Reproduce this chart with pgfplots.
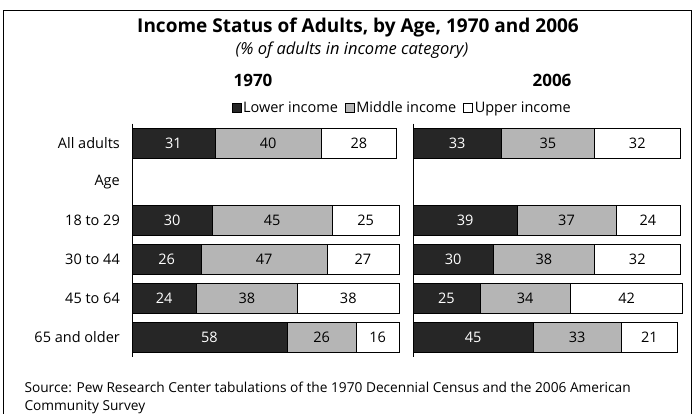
\documentclass[border=0pt]{standalone}
\usepackage{fontspec}
\setmainfont{Open Sans}
\usepackage{pgfplots}
\pgfplotsset{compat=1.18}
\usepackage{pgfplotstable}

\pgfplotstableread{
row low mid up
0 31 40 28
2 30 45 25
3 26 47 27
4 24 38 38
5 58 26 16
}\seventy
\pgfplotstableread{
row low mid up
0 33 35 32
2 39 37 24
3 30 38 32
4 25 34 42
5 45 33 21
}\twothousandsix

\definecolor{lowc}{HTML}{262626}
\definecolor{midc}{HTML}{B5B5B5}

\pgfplotsset{
 panel/.style={
  xbar, bar shift=0pt, scale only axis, width=267pt, height=233pt,
  xmin=0, xmax=100, ymin=-0.5, ymax=5.5, y dir=reverse,
  bar width=30pt, clip=false,
  axis x line=none, axis y line*=left, y axis line style={-, line width=1pt},
  ytick={0,...,5}, major tick length=0pt, ytick style={draw=none},
  xtick=\empty,
  /pgf/number format/assume math mode=true,
  legend image code/.code={\draw[#1] (0pt,-4.5pt) rectangle (9pt,4.5pt);},
 },
 lbl/.style={only marks, mark=none, point meta=explicit,
   nodes near coords, forget plot,
   every node near coord/.append style={font=\fontsize{14.5}{16}\selectfont, anchor=center, inner sep=0pt, text=#1}},
}

\begin{document}
\begin{tikzpicture}
\useasboundingbox (0pt,0pt) rectangle (696pt,-414pt);
\draw[line width=0.8pt] (3pt,-416pt) -- (3pt,-10pt) -- (691pt,-10pt) -- (691pt,-416pt);

\node[font=\bfseries\fontsize{19}{21}\selectfont] at (358pt,-28pt) {Income Status of Adults, by Age, 1970 and 2006};
\node[font=\itshape\fontsize{16.5}{18}\selectfont] at (352pt,-50pt) {(\% of adults in income category)};
\node[font=\bfseries\fontsize{17}{19}\selectfont] at (253pt,-80pt) {1970};
\node[font=\bfseries\fontsize{17}{19}\selectfont] at (552pt,-80pt) {2006};

\begin{axis}[panel, at={(132pt,-123.6pt)}, anchor=north west,
  yticklabels={All adults, Age, 18 to 29, 30 to 44, 45 to 64, 65 and older},
  yticklabel style={font=\fontsize{14.5}{16}\selectfont, inner sep=0pt, xshift=-12pt},
  legend style={at={(1.012,1.068)}, anchor=center, draw=none, fill=none, legend columns=3,
    font=\fontsize{14.5}{16}\selectfont, inner sep=0pt,
    /tikz/every odd column/.append style={column sep=0pt},
    /tikz/every even column/.append style={column sep=5pt}},
]
\addlegendimage{fill=lowc, draw=black}
\addlegendimage{fill=midc, draw=black}
\addlegendimage{fill=white, draw=black}
\legend{Lower income, Middle income, Upper income}
\addplot[fill=white, draw=black, forget plot] table[y=row, x expr=\thisrow{low}+\thisrow{mid}+\thisrow{up}] {\seventy};
\addplot[fill=midc, draw=black, forget plot] table[y=row, x expr=\thisrow{low}+\thisrow{mid}] {\seventy};
\addplot[fill=lowc, draw=black, forget plot] table[y=row, x=low] {\seventy};
\addplot[lbl=white] table[y=row, x expr=\thisrow{low}/2, meta=low] {\seventy};
\addplot[lbl=black] table[y=row, x expr=\thisrow{low}+\thisrow{mid}/2, meta=mid] {\seventy};
\addplot[lbl=black] table[y=row, x expr=\thisrow{low}+\thisrow{mid}+\thisrow{up}/2, meta=up] {\seventy};
\end{axis}

\begin{axis}[panel, at={(413pt,-123.6pt)}, anchor=north west, ytick=\empty]
\addplot[fill=white, draw=black, forget plot] table[y=row, x expr=\thisrow{low}+\thisrow{mid}+\thisrow{up}] {\twothousandsix};
\addplot[fill=midc, draw=black, forget plot] table[y=row, x expr=\thisrow{low}+\thisrow{mid}] {\twothousandsix};
\addplot[fill=lowc, draw=black, forget plot] table[y=row, x=low] {\twothousandsix};
\addplot[lbl=white] table[y=row, x expr=\thisrow{low}/2, meta=low] {\twothousandsix};
\addplot[lbl=black] table[y=row, x expr=\thisrow{low}+\thisrow{mid}/2, meta=mid] {\twothousandsix};
\addplot[lbl=black] table[y=row, x expr=\thisrow{low}+\thisrow{mid}+\thisrow{up}/2, meta=up] {\twothousandsix};
\end{axis}

\node[anchor=base west, font=\fontsize{13.7}{16}\selectfont] at (21pt,-392pt) {Source: Pew Research Center tabulations of the 1970 Decennial Census and the 2006 American};
\node[anchor=base west, font=\fontsize{13.7}{16}\selectfont] at (21pt,-410pt) {Community Survey};
\end{tikzpicture}
\end{document}
